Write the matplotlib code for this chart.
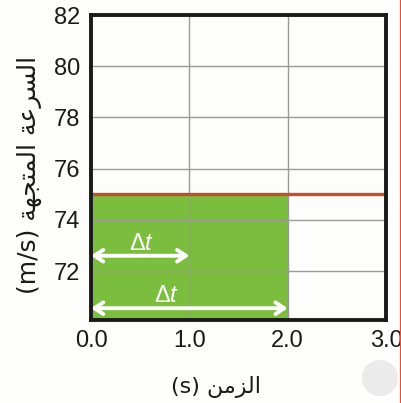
import matplotlib
matplotlib.use("Agg")
import matplotlib.pyplot as plt
from matplotlib.patches import Circle
from matplotlib.lines import Line2D

# Data
velocity = 75.0                 # constant velocity (m/s)
fill_time = [0.0, 2.0]          # shaded interval (s)
arrow_ends = [1.0, 2.0]         # Δt arrow end times (s)
arrow_y = [72.6, 70.55]         # Δt arrow heights (m/s)
label_pos = [(0.51, 73.1), (0.77, 71.06)]
xticks = [0.0, 1.0, 2.0, 3.0]
xtick_labels = ["0.0", "1.0", "2.0", "3.0"]
yticks = [72, 74, 76, 78, 80, 82]

# Arabic labels pre-shaped (presentation forms, visual order)
ar_time = "\uFEE6\uFEE3\uFEB0\uFEDF\uFE8D"                 # الزمن
ar_speed = "\uFE94\uFECB\uFEAE\uFEB4\uFEDF\uFE8D"          # السرعة
ar_vector = "\uFE94\uFEEC\uFEA0\uFE98\uFEE4\uFEDF\uFE8D"   # المتجهة
xlabel = "(s) " + ar_time
ylabel = "(m/s) " + ar_vector + " " + ar_speed

plt.rcParams["mathtext.fontset"] = "custom"
plt.rcParams["mathtext.rm"] = "Liberation Sans"
plt.rcParams["mathtext.it"] = "Liberation Sans:italic"

fig = plt.figure(figsize=(4.01, 4.03), dpi=100)
fig.patch.set_facecolor("#fdfdfb")
ax = fig.add_axes([91/401, 1-320/403, (386-91)/401, (320-15)/403])
ax.set_facecolor("#fdfdfb")
ax.set_xlim(0, 3)
ax.set_ylim(70.09, 82)

ax.fill_between(fill_time, [70.09, 70.09], [velocity, velocity],
                color="#7bbd3c", zorder=1, linewidth=0)
ax.set_xticks(xticks)
ax.set_xticklabels(xtick_labels)
ax.set_yticks(yticks)
ax.grid(True, color="#9a9a9a", linewidth=1.0, zorder=2)
ax.set_axisbelow(False)
for gl in ax.get_xgridlines() + ax.get_ygridlines():
    gl.set_zorder(2)

ax.axhline(velocity, color="#c4502a", linewidth=2.4, zorder=4)

for xe, ya in zip(arrow_ends, arrow_y):
    ax.annotate("", xy=(xe, ya), xytext=(0.0, ya),
                arrowprops=dict(arrowstyle="<->,head_length=0.45,head_width=0.3",
                                color="white", lw=2.8,
                                mutation_scale=14, shrinkA=0, shrinkB=0),
                zorder=5)
for (lx, ly) in label_pos:
    ax.text(lx, ly, r"$\Delta t$", color="white", fontsize=17,
            ha="center", va="center", zorder=6)

for s in ax.spines.values():
    s.set_linewidth(2.8)
    s.set_color("#1a1a1a")
    s.set_zorder(7)

ax.tick_params(length=0, labelsize=17)
ax.tick_params(axis="y", pad=8)
ax.tick_params(axis="x", pad=7)
for lab in ax.get_xticklabels() + ax.get_yticklabels():
    lab.set_family(["Liberation Sans", "DejaVu Sans"])
    lab.set_color("#1a1a1a")

fig.text(216/401, 1-387/403, xlabel, fontsize=16, ha="center", va="center",
         family=["DejaVu Sans"], color="#1a1a1a")
fig.text(29/401, 1-175/403, ylabel, fontsize=18, ha="center", va="center",
         rotation=90, family=["DejaVu Sans"], color="#1a1a1a")

# decorative elements of the original picture
fig.patches.append(Circle((380/401, 1-378/403), 18/401, transform=fig.transFigure,
                          facecolor="#ebebeb", edgecolor="none"))
fig.lines.append(Line2D([400/401, 400/401], [0, 1], transform=fig.transFigure,
                        color="#f04a30", linewidth=0.8))

fig.savefig("out.png", dpi=100, facecolor=fig.get_facecolor())
